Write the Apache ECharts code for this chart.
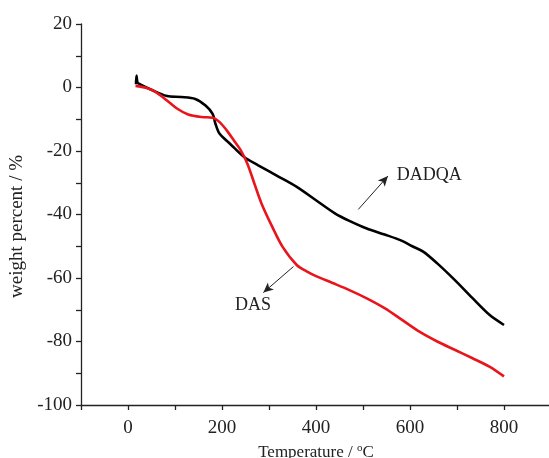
<!DOCTYPE html>
<html>
<head>
  <meta charset="utf-8">
  <title>TGA curves</title>
  <script src="https://cdn.jsdelivr.net/npm/echarts@6.0.0/dist/echarts.min.js"></script>
  <style>
    body { margin: 0; background: #fff; }
    #chart { width: 549px; height: 458px; }
  </style>
</head>
<body>
  <div id="chart"></div>
  <script>
    // DADQA (black)
    const tempDADQA = [17, 18, 20, 23, 45, 83, 113, 143, 165, 180, 186, 195, 217, 247, 277, 322, 359, 400, 441, 471, 508, 546, 583, 605, 628, 658, 695, 732, 769, 800];
    const weightDADQA = [1.0, 3.8, 1.6, 1.2, -0.4, -2.7, -3.0, -3.6, -5.7, -8.3, -11.4, -14.6, -17.7, -21.9, -24.5, -28.2, -31.3, -35.5, -39.7, -42.0, -44.4, -46.3, -48.3, -50.0, -51.7, -55.4, -60.6, -66.2, -71.6, -74.8];
    // DAS (red)
    const tempDAS = [16, 38, 60, 83, 105, 128, 157, 180, 195, 210, 225, 240, 254, 269, 284, 307, 329, 359, 381, 400, 434, 471, 508, 546, 583, 620, 658, 695, 732, 769, 800];
    const weightDAS = [0.5, -0.1, -1.5, -4.1, -6.7, -8.5, -9.3, -9.5, -10.9, -13.5, -16.6, -19.8, -24.0, -30.3, -36.5, -43.9, -50.2, -55.9, -58.0, -59.4, -61.5, -63.8, -66.4, -69.5, -73.2, -76.9, -80.0, -82.6, -85.2, -87.9, -91.0];

    // annotation arrows [from, to] and labels
    const arrowDADQA = [[490, -38.4], [553, -27.9]];
    const arrowDAS = [[352, -56.4], [288, -64.6]];
    const labelDADQA = [572, -27.6];
    const labelDAS = [266, -68.5];

    const zip = (xs, ys) => xs.map((x, i) => [x, ys[i]]);
    const font = 'Liberation Serif';

    const chart = echarts.init(document.getElementById('chart'));
    chart.setOption({
      animation: false,
      backgroundColor: '#fff',
      grid: { left: 81, right: -2, top: 24, bottom: 53, outerBoundsMode: 'none', containLabel: false },
      xAxis: {
        type: 'value', min: -100, max: 900, interval: 100,
        name: 'Temperature / {sup|o}C',
        nameLocation: 'middle', nameGap: 38,
        nameTextStyle: {
          fontFamily: font, fontSize: 17, color: '#222',
          rich: { sup: { fontFamily: font, fontSize: 11, color: '#222', verticalAlign: 'top', padding: [0, 0, 8, 0] } }
        },
        axisLine: { onZero: false, lineStyle: { color: '#222', width: 1.3 } },
        axisTick: { length: 5, lineStyle: { color: '#222', width: 1.3 } },
        axisLabel: {
          margin: 14, fontFamily: font, fontSize: 19, color: '#222',
          formatter: v => (v >= 0 && v <= 800 && v % 200 === 0) ? String(v) : ''
        },
        splitLine: { show: false }
      },
      yAxis: {
        type: 'value', min: -100, max: 20, interval: 10,
        name: 'weight percent / %',
        nameLocation: 'middle', nameGap: 54,
        nameTextStyle: { fontFamily: font, fontSize: 19, color: '#222', padding: [0, 24, 0, 0] },
        axisLine: { show: true, onZero: false, lineStyle: { color: '#222', width: 1.3 } },
        axisTick: { show: true, length: 5, lineStyle: { color: '#222', width: 1.3 } },
        axisLabel: {
          margin: 9, fontFamily: font, fontSize: 19, color: '#222',
          formatter: v => (v % 20 === 0) ? String(v) : ''
        },
        splitLine: { show: false }
      },
      series: [
        {
          name: 'DADQA', type: 'line', data: zip(tempDADQA, weightDADQA),
          showSymbol: false, smooth: 0.3,
          lineStyle: { color: '#000', width: 2.6 },
          markLine: {
            silent: true, symbol: ['none', 'arrow'], symbolSize: [7, 10],
            lineStyle: { color: '#222', width: 1, type: 'solid' },
            label: { show: false },
            data: [[{ coord: arrowDADQA[0] }, { coord: arrowDADQA[1] }]]
          },
          markPoint: {
            symbol: 'circle', symbolSize: 0,
            label: { show: true, position: 'right', distance: 0, fontFamily: font, fontSize: 18, color: '#222', formatter: 'DADQA' },
            data: [{ coord: labelDADQA }]
          }
        },
        {
          name: 'DAS', type: 'line', data: zip(tempDAS, weightDAS),
          showSymbol: false, smooth: 0.3,
          lineStyle: { color: '#e8161c', width: 2.6 },
          markLine: {
            silent: true, symbol: ['none', 'arrow'], symbolSize: [7, 10],
            lineStyle: { color: '#222', width: 1, type: 'solid' },
            label: { show: false },
            data: [[{ coord: arrowDAS[0] }, { coord: arrowDAS[1] }]]
          },
          markPoint: {
            symbol: 'circle', symbolSize: 0,
            label: { show: true, position: 'inside', fontFamily: font, fontSize: 18, color: '#222', formatter: 'DAS' },
            data: [{ coord: labelDAS }]
          }
        }
      ]
    });
  </script>
</body>
</html>
